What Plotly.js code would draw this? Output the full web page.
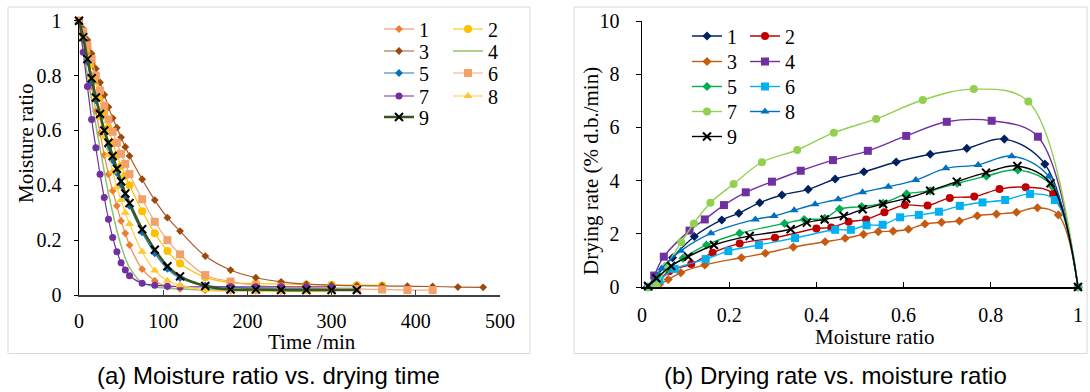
<!DOCTYPE html>
<html>
<head>
<meta charset="utf-8">
<script src="https://cdn.plot.ly/plotly-3.0.1.min.js"></script>
<style>
html,body{margin:0;padding:0;background:#fff;}
#chart{width:1090px;height:392px;}
</style>
</head>
<body>
<div id="chart"></div>
<script>
// ---------- DATA: (a) Moisture ratio vs. drying time ----------
const timeMin = [0,5,10,15,20,25,30,35,40,45,50,55,60,75,90,105,120,150,180,210,240,270,300,330,360,390,420,450,480];
const mrA1 = [1,0.93,0.85,0.76,0.67,0.59,0.51,0.44,0.38,0.325,0.27,0.225,0.182,0.094,0.052,0.03,0.022,0.018,0.016,0.015,0.015];
const mrA2 = [1,0.95,0.9,0.84,0.78,0.72,0.665,0.61,0.555,0.51,0.47,0.435,0.4,0.305,0.225,0.16,0.115,0.065,0.045,0.042,0.04,0.038,0.037,0.036,0.035];
const mrA3 = [1,0.97,0.93,0.88,0.825,0.775,0.73,0.685,0.645,0.61,0.575,0.54,0.507,0.422,0.346,0.282,0.233,0.142,0.091,0.063,0.048,0.04,0.036,0.034,0.033,0.032,0.031,0.029,0.028];
const mrA4 = [1,0.9,0.8,0.71,0.62,0.535,0.45,0.37,0.3,0.235,0.18,0.135,0.1,0.045,0.03,0.025,0.022,0.02,0.02,0.02,0.02,0.02,0.02];
const mrA5 = [1,0.93,0.85,0.775,0.71,0.65,0.59,0.54,0.49,0.445,0.4,0.36,0.325,0.228,0.152,0.095,0.062,0.035,0.028,0.026,0.025,0.025,0.024,0.024];
const mrA6 = [1,0.96,0.91,0.86,0.8,0.745,0.69,0.64,0.595,0.555,0.515,0.478,0.441,0.349,0.267,0.2,0.148,0.073,0.049,0.035,0.03,0.027,0.025,0.022,0.02,0.018,0.018];
const mrA7 = [1,0.885,0.76,0.64,0.537,0.44,0.355,0.276,0.21,0.158,0.118,0.091,0.07,0.043,0.036,0.032,0.03,0.03,0.03,0.03,0.03,0.03,0.03];
const mrA8 = [1,0.94,0.87,0.79,0.72,0.645,0.575,0.51,0.45,0.393,0.346,0.3,0.259,0.158,0.089,0.052,0.036,0.018,0.015,0.013,0.012,0.012,0.012];
const mrA9 = [1,0.94,0.86,0.79,0.72,0.66,0.6,0.555,0.507,0.46,0.415,0.37,0.335,0.24,0.165,0.105,0.068,0.033,0.02,0.02,0.018,0.018,0.018,0.018];

// ---------- DATA: (b) Drying rate vs. moisture ratio ----------
const mrB1 = [0.012,0.03,0.07,0.12,0.183,0.222,0.27,0.321,0.381,0.443,0.509,0.583,0.661,0.745,0.831,0.924,1];
const drB1 = [0,0.35,1.1,1.9,2.52,2.77,3.17,3.46,3.67,4.06,4.33,4.7,4.99,5.21,5.56,4.62,0];
const mrB2 = [0.015,0.035,0.063,0.113,0.162,0.224,0.305,0.4,0.434,0.474,0.514,0.556,0.603,0.655,0.706,0.762,0.82,0.88,0.943,1];
const drB2 = [0,0.2,0.6,0.86,1.29,1.64,1.85,2.2,2.24,2.45,2.54,2.81,3.08,3.06,3.35,3.4,3.68,3.75,3.5,0];
const mrB3 = [0.018,0.04,0.06,0.089,0.144,0.228,0.283,0.347,0.42,0.466,0.508,0.542,0.576,0.611,0.649,0.687,0.728,0.769,0.813,0.859,0.907,0.955,1];
const drB3 = [0,0.1,0.28,0.54,0.83,1.1,1.27,1.5,1.7,1.83,1.98,2.08,2.1,2.17,2.37,2.43,2.48,2.68,2.74,2.81,2.98,2.71,0];
const mrB4 = [0.015,0.028,0.05,0.109,0.144,0.188,0.238,0.298,0.364,0.438,0.518,0.606,0.699,0.802,0.908,1];
const drB4 = [0,0.43,1.14,2.12,2.54,3.08,3.56,3.96,4.37,4.77,5.12,5.68,6.21,6.25,5.65,0];
const mrB5 = [0.015,0.04,0.06,0.094,0.148,0.224,0.327,0.372,0.419,0.453,0.504,0.553,0.607,0.661,0.723,0.79,0.862,0.94,1];
const drB5 = [0,0.4,0.7,1.08,1.58,2.02,2.39,2.54,2.58,2.93,3.02,3.15,3.5,3.62,3.9,4.17,4.4,3.8,0];
const mrB6 = [0.015,0.04,0.075,0.146,0.198,0.268,0.351,0.443,0.479,0.515,0.552,0.592,0.635,0.681,0.729,0.781,0.833,0.89,0.947,1];
const drB6 = [0,0.26,0.68,1.05,1.35,1.58,1.84,2.15,2.15,2.32,2.34,2.62,2.71,2.83,3.05,3.18,3.27,3.5,3.27,0];
const mrB7 = [0.015,0.033,0.056,0.09,0.119,0.157,0.21,0.275,0.356,0.44,0.537,0.644,0.761,0.886,1];
const drB7 = [0,0.07,0.8,1.68,2.39,3.17,3.87,4.69,5.15,5.8,6.32,7.03,7.44,6.97,0];
const mrB8 = [0.015,0.045,0.089,0.158,0.26,0.303,0.349,0.397,0.45,0.506,0.565,0.628,0.697,0.771,0.848,0.933,1];
const drB8 = [0,0.7,1.36,2.02,2.54,2.67,2.89,3.11,3.3,3.56,3.77,4.02,4.46,4.59,4.92,4.15,0];
const mrB9 = [0.014,0.033,0.067,0.106,0.165,0.247,0.341,0.378,0.419,0.463,0.506,0.553,0.606,0.661,0.722,0.789,0.861,0.937,1];
const drB9 = [0.04,0.33,0.79,1.14,1.58,1.92,2.17,2.42,2.54,2.67,2.92,3.12,3.33,3.62,3.96,4.3,4.55,3.9,0];

const seriesNames = ['1','2','3','4','5','6','7','8','9'];
const tickA_x = [0,100,200,300,400,500];
const tickA_y = [0,0.2,0.4,0.6,0.8,1];
const tickB_x = [0,0.2,0.4,0.6,0.8,1];
const tickB_y = [0,2,4,6,8,10];

// ---------- STYLES ----------
const W = 1090, H = 392;
const px = v => v / W;
const py = v => 1 - v / H;
const serif = 'Liberation Serif, Times New Roman, serif';
const sans = 'Liberation Sans, Arial, sans-serif';

const mrA = [mrA1,mrA2,mrA3,mrA4,mrA5,mrA6,mrA7,mrA8,mrA9];
const styleA = [
  {c:'#ED7D31', lc:'#EE8A4A', sym:'diamond', s:6, w:1.2},
  {c:'#FFC000', lc:'#FFC000', sym:'circle', s:8, w:1.2},
  {c:'#9E480E', lc:'#A65A2A', sym:'diamond', s:6, w:1.2},
  {c:'#A9D18E', lc:'#8FC46A', sym:'none', s:0, w:1.5},
  {c:'#0070C0', lc:'#2E75B6', sym:'diamond', s:6, w:1.2},
  {c:'#F4A06A', lc:'#F4A878', sym:'square', s:8, w:1.2},
  {c:'#7030A0', lc:'#7030A0', sym:'circle', s:7, w:1.2},
  {c:'#FFC72C', lc:'#FFCC44', sym:'triangle-up', s:8, w:1.2},
  {c:'#000000', lc:'#375623', sym:'x-thin', s:8, w:2.6}
];
const drB = [drB1,drB2,drB3,drB4,drB5,drB6,drB7,drB8,drB9];
const mrBx = [mrB1,mrB2,mrB3,mrB4,mrB5,mrB6,mrB7,mrB8,mrB9];
const styleB = [
  {c:'#002060', sym:'diamond', s:7},
  {c:'#C00000', sym:'circle', s:8},
  {c:'#C55A11', sym:'diamond', s:7},
  {c:'#7030A0', sym:'square', s:8},
  {c:'#00B050', sym:'diamond', s:7},
  {c:'#00B0F0', sym:'square', s:8},
  {c:'#92D050', sym:'circle', s:8},
  {c:'#0070C0', sym:'triangle-up', s:8},
  {c:'#000000', sym:'x-thin', s:8}
];

// legend anchor positions (line start x, row center y)
const legA = {colX:[384,453], rowY:[29,51,73,96,117]};
const legB = {colX:[692,750], rowY:[36,61.5,86.5,111.5,136.5]};

const traces = [];
const annFont = {family:serif,size:21,color:'#000'};
const capFont = {family:sans,size:24,color:'#000'};
const layout = {
  width: W, height: H, autosize: false,
  margin: {l:0,r:0,t:0,b:0,pad:0},
  paper_bgcolor: '#ffffff', plot_bgcolor: 'rgba(0,0,0,0)',
  font: {family: serif, size: 20, color: '#000'},
  showlegend: true,
  xaxis: {domain:[px(79), px(500)], range:[0,500], tickvals: tickA_x, ticks:'inside', ticklen:5, tickcolor:'#404040',
          showline:true, linecolor:'#404040', linewidth:1.5, showgrid:false, zeroline:false, anchor:'y',
          tickfont:{family:serif,size:20,color:'#000'}, ticklabelstandoff: 7, fixedrange:true},
  yaxis: {domain:[py(295), py(20.7)], range:[0,1], tickvals: tickA_y, ticks:'outside', ticklen:4, tickcolor:'#000',
          showline:true, linecolor:'#000', linewidth:1.5, showgrid:false, zeroline:false, anchor:'x',
          tickfont:{family:serif,size:20,color:'#000'}, ticklabelstandoff: 8, fixedrange:true},
  xaxis2: {domain:[px(642), px(1078)], range:[0,1], tickvals: tickB_x, ticks:'inside', ticklen:5, tickcolor:'#000',
          showline:true, linecolor:'#000', linewidth:1.5, showgrid:false, zeroline:false, anchor:'y2',
          tickfont:{family:serif,size:20,color:'#000'}, ticklabelstandoff: 9, fixedrange:true},
  yaxis2: {domain:[py(287), py(21)], range:[0,10], tickvals: tickB_y, ticks:'outside', ticklen:5, tickcolor:'#000',
          showline:true, linecolor:'#000', linewidth:1.5, showgrid:false, zeroline:false, anchor:'x2',
          tickfont:{family:serif,size:20,color:'#000'}, ticklabelstandoff: 12, fixedrange:true},
  shapes: [
    {type:'rect', xref:'paper', yref:'paper', x0:px(8), x1:px(530), y0:py(353.5), y1:py(7), line:{color:'#D9D9D9', width:1}},
    {type:'rect', xref:'paper', yref:'paper', x0:px(574), x1:px(1087), y0:py(353.5), y1:py(7), line:{color:'#D9D9D9', width:1}}
  ],
  annotations: [
    {text:'Moisture ratio', x:px(26), y:py(143), textangle:-90, font:annFont},
    {text:'Time /min', x:px(312), y:py(342), font:annFont},
    {text:'Drying rate (% d.b./min)', x:px(591), y:py(171), textangle:-90, font:annFont},
    {text:'Moisture ratio', x:px(875), y:py(337), font:annFont},
    {text:'(a) Moisture ratio vs. drying time', x:px(268), y:py(375), font:capFont},
    {text:'(b) Drying rate vs. moisture ratio', x:px(835), y:py(375), font:capFont}
  ].map(a => Object.assign({xref:'paper', yref:'paper', xanchor:'center', yanchor:'middle', showarrow:false}, a))
};

function legendKey(k){ return k === 1 ? 'legend' : 'legend' + k; }
function addLegend(k, lx, ly){
  layout[legendKey(k)] = {x: px(lx - 5), y: py(ly), xanchor:'left', yanchor:'middle',
    bgcolor:'rgba(0,0,0,0)', borderwidth:0, font:{family:serif, size:20, color:'#000'},
    itemclick:false, itemdoubleclick:false};
}

// chart (a)
mrA.forEach((vals, i) => {
  const st = styleA[i];
  const k = i + 1;
  const tr = {
    x: timeMin.slice(0, vals.length), y: vals, xaxis:'x', yaxis:'y',
    name: seriesNames[i], type:'scatter', legend: legendKey(k), cliponaxis:false,
    mode: st.sym === 'none' ? 'lines' : 'lines+markers',
    line: {color: st.lc, width: st.w, shape:'spline', smoothing:1},
  };
  if (st.sym !== 'none') {
    tr.marker = st.sym === 'x-thin'
      ? {symbol:'x-thin', size: st.s, color: st.c, line:{color: st.c, width:2}}
      : {symbol: st.sym, size: st.s, color: st.c, line:{width:0}};
  }
  traces.push(tr);
  addLegend(k, legA.colX[i % 2], legA.rowY[Math.floor(i / 2)]);
});

// chart (b)
drB.forEach((vals, i) => {
  const st = styleB[i];
  const k = i + 10;
  const tr = {
    x: mrBx[i], y: vals, xaxis:'x2', yaxis:'y2',
    name: seriesNames[i], type:'scatter', legend: legendKey(k), cliponaxis:false,
    mode:'lines+markers',
    line: {color: st.c, width: 1.4, shape:'spline', smoothing:1},
    marker: st.sym === 'x-thin'
      ? {symbol:'x-thin', size: st.s, color: st.c, line:{color: st.c, width:2}}
      : {symbol: st.sym, size: st.s, color: st.c, line:{width:0}}
  };
  traces.push(tr);
  addLegend(k, legB.colX[i % 2], legB.rowY[Math.floor(i / 2)]);
});

Plotly.newPlot('chart', traces, layout, {displayModeBar:false, staticPlot:true});
</script>
</body>
</html>
